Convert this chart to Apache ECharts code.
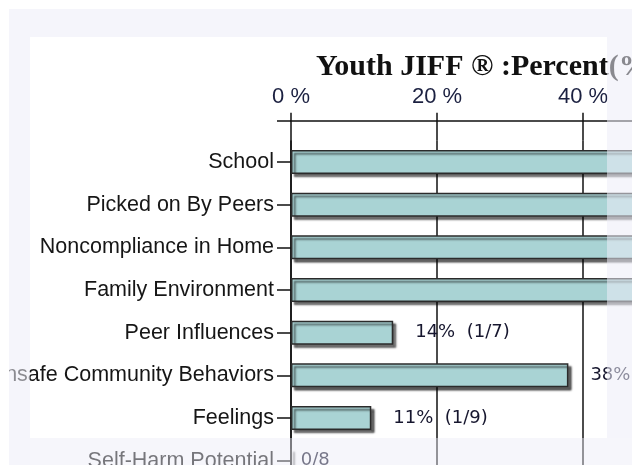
<!DOCTYPE html>
<html>
<head>
<meta charset="utf-8">
<script src="https://cdn.jsdelivr.net/npm/echarts@6/dist/echarts.min.js"></script>
<style>
html,body{margin:0;padding:0;background:#fff;}
#chart{width:632px;height:465px;}
</style>
</head>
<body>
<div id="chart"></div>
<script>
const titleText = 'Youth JIFF \u00AE :Percent(%)';
const categories = ['School','Picked on By Peers','Noncompliance in Home','Family Environment','Peer Influences','Unsafe Community Behaviors','Feelings','Self-Harm Potential'];
const percents = [63, 57, 67, 56, 14, 38, 11, 0];
const counts = [5, 4, 6, 5, 1, 3, 1, 0];
const totals = [8, 7, 9, 9, 7, 8, 9, 8];
const xTicks = [0, 20, 40, 60, 80, 100];

const chart = echarts.init(document.getElementById('chart'), null, {renderer:'canvas'});

const seriesData = percents.map((v, i) => ({
  value: v,
  label: v === 0 ? {distance: 9} : {}
}));

const lav = 'rgba(236,236,247,0.55)';
const option = {
  backgroundColor: '#ffffff',
  animation: false,
  title: {
    text: titleText,
    left: 311, top: 47,
    textStyle: {fontFamily: '"Liberation Serif", "DejaVu Serif", serif', fontWeight: 'bold', fontSize: 30, color: '#111'}
  },
  grid: {left: 291, top: 140.7, width: 730, height: 341.3, containLabel: false, outerBoundsMode: 'none'},
  xAxis: [{
    type: 'value', position: 'top', offset: 20,
    min: xTicks[0], max: xTicks[xTicks.length-1], interval: xTicks[1]-xTicks[0],
    axisLine: {show: true, lineStyle: {color: '#111', width: 1.5}},
    axisTick: {show: true, inside: true, length: 20, lineStyle: {color: '#111', width: 1.5}},
    axisLabel: {formatter: '{value} %', margin: 13, fontFamily: '"Liberation Sans Narrow", "Liberation Sans", Arial, sans-serif', fontSize: 22, color: '#1b2040'},
    splitLine: {show: true, lineStyle: {color: '#111', width: 1.5}}
  },{
    type: 'value', position: 'top', offset: 20,
    min: xTicks[0], max: xTicks[xTicks.length-1], interval: xTicks[1]-xTicks[0],
    axisLine: {show: false},
    axisTick: {show: true, inside: false, length: 8, lineStyle: {color: '#111', width: 1.5}},
    axisLabel: {show: false},
    splitLine: {show: false}
  }],
  yAxis: {
    type: 'category', inverse: true, data: categories,
    axisLine: {show: true, lineStyle: {color: '#111', width: 1.5}},
    axisTick: {show: true, alignWithLabel: true, length: 14, lineStyle: {color: '#111', width: 1.5}},
    axisLabel: {margin: 17, fontFamily: '"Liberation Sans", Arial, sans-serif', fontSize: 21.5, color: '#161616'},
    splitLine: {show: false}
  },
  series: [{
    type: 'bar', xAxisIndex: 0,
    data: seriesData,
    barWidth: 24,
    itemStyle: {color: '#a9d3d4', borderColor: '#2b2b2b', borderWidth: 1.5,
      shadowColor: 'rgba(0,0,0,0.6)', shadowOffsetX: 3, shadowOffsetY: 3, shadowBlur: 2},
    label: {
      show: true, position: 'right', distance: 22,
      fontFamily: '"DejaVu Sans", Verdana, sans-serif', fontSize: 18, color: '#16162e',
      formatter: p => {
        const i = p.dataIndex;
        const frac = counts[i] + '/' + totals[i];
        return percents[i] === 0 ? frac : percents[i] + '%  (' + frac + ')';
      }
    }
  }],
  graphic: [
    {type: 'line', z: 50, silent: true, shape: {x1: 277, y1: 121, x2: 291, y2: 121}, style: {stroke: '#111', lineWidth: 1.5}},
    {type: 'rect', z: 100, silent: true, shape: {x: 9, y: 9, width: 623, height: 28}, style: {fill: lav}},
    {type: 'rect', z: 100, silent: true, shape: {x: 9, y: 37, width: 21, height: 428}, style: {fill: lav}},
    {type: 'rect', z: 100, silent: true, shape: {x: 607, y: 37, width: 25, height: 401}, style: {fill: lav}},
    {type: 'rect', z: 100, silent: true, shape: {x: 30, y: 438, width: 602, height: 27}, style: {fill: 'rgba(236,236,247,0.45)'}},
    {type: 'rect', z: 101, silent: true, shape: {x: 0, y: 0, width: 632, height: 9}, style: {fill: '#ffffff'}},
    {type: 'rect', z: 101, silent: true, shape: {x: 0, y: 0, width: 9, height: 465}, style: {fill: '#ffffff'}}
  ]
};
chart.setOption(option);
</script>
</body>
</html>
